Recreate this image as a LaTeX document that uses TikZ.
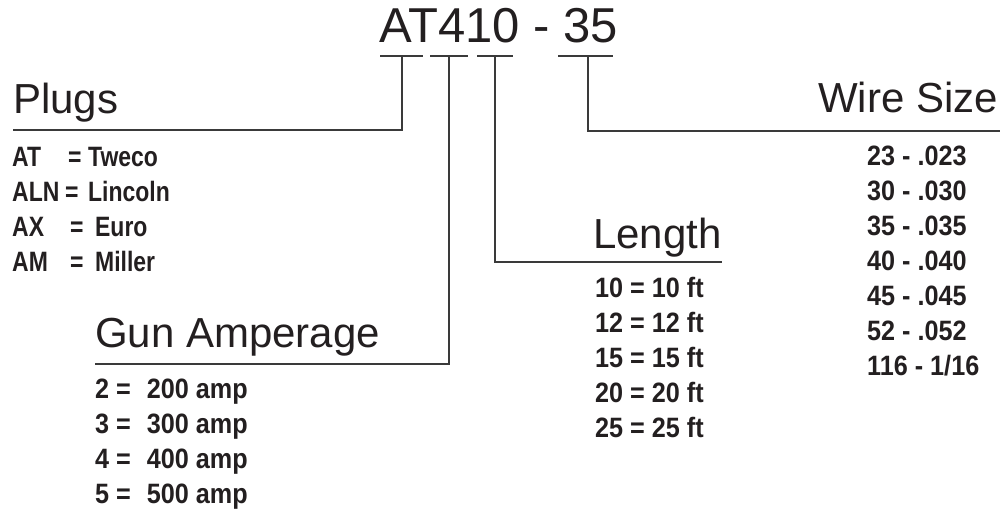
\documentclass[tikz,border=0pt]{standalone}
\usepackage{fontspec}
\setmainfont{Liberation Sans}
\newfontfamily\condtext{Liberation Sans}[FakeStretch=0.82]
\newfontfamily\condnum{Liberation Sans}[FakeStretch=0.9]
\definecolor{ink}{HTML}{231F20}
\definecolor{rule}{HTML}{3A3A3A}
\begin{document}
\begin{tikzpicture}[x=1pt,y=-1pt,
  titletext/.style={anchor=base west, inner sep=0pt, text=ink, font=\fontsize{49}{49}\selectfont},
  headtext/.style={anchor=base west, inner sep=0pt, text=ink, font=\fontsize{42}{42}\selectfont},
  plugtext/.style={anchor=base west, inner sep=0pt, text=ink, font=\condtext\bfseries\fontsize{28}{28}\selectfont},
  itemtext/.style={anchor=base west, inner sep=0pt, text=ink, font=\condnum\bfseries\fontsize{28}{28}\selectfont},
  link/.style={draw=rule, line width=1.4pt}]
\path[use as bounding box] (0,0) rectangle (1003,511);
% title
\node[titletext] (title) at (379,43) {AT410 - 35};
% underline segments
\coordinate (u1a) at (380,56); \coordinate (u1b) at (423,56); \coordinate (u1m) at (402,56);
\coordinate (u2a) at (430,56); \coordinate (u2b) at (468,56); \coordinate (u2m) at (449,56);
\coordinate (u3a) at (477,56); \coordinate (u3b) at (513,56); \coordinate (u3m) at (495,56);
\coordinate (u4a) at (558,56); \coordinate (u4b) at (613,56); \coordinate (u4m) at (588,56);
\draw[link] (u1a) -- (u1b);
\draw[link] (u2a) -- (u2b);
\draw[link] (u3a) -- (u3b);
\draw[link] (u4a) -- (u4b);
% headings
\node[headtext] (plugs) at (13,113) {Plugs};
\node[headtext] (gun) at (95,347) {Gun Amperage};
\node[headtext] (length) at (593,248) {Length};
\node[headtext] (wire) at (818,112) {Wire Size};
% connector ends
\coordinate (p1) at (402,130); \coordinate (p2) at (13,130);
\coordinate (g1) at (449,364); \coordinate (g2) at (95,364);
\coordinate (l1) at (495,262); \coordinate (l2) at (722,262);
\coordinate (w1) at (588,131); \coordinate (w2) at (1000,131);
\draw[link] (u1m) -- (p1) -- (p2);
\draw[link] (u2m) -- (g1) -- (g2);
\draw[link] (u3m) -- (l1) -- (l2);
\draw[link] (u4m) -- (w1) -- (w2);
% plugs list
\node[plugtext] (pa) at (12,166) {\makebox[56pt][l]{AT}\makebox[20pt][l]{=}Tweco};
\node[plugtext] (pb) at (12,201) {\makebox[53pt][l]{ALN}\makebox[23pt][l]{=}Lincoln};
\node[plugtext] (pc) at (12,236) {\makebox[58pt][l]{AX}\makebox[25pt][l]{=}Euro};
\node[plugtext] (pd) at (12,271) {\makebox[58pt][l]{AM}\makebox[25pt][l]{=}Miller};
% gun amperage list
\node[itemtext] (ga) at (95,398) {2 =\hspace{16pt}200 amp};
\node[itemtext] (gb) at (95,433) {3 =\hspace{16pt}300 amp};
\node[itemtext] (gc) at (95,468) {4 =\hspace{16pt}400 amp};
\node[itemtext] (gd) at (95,503) {5 =\hspace{16pt}500 amp};
% length list
\node[itemtext] (la) at (595,297) {10 = 10 ft};
\node[itemtext] (lb) at (595,332) {12 = 12 ft};
\node[itemtext] (lc) at (595,367) {15 = 15 ft};
\node[itemtext] (ld) at (595,402) {20 = 20 ft};
\node[itemtext] (le) at (595,437) {25 = 25 ft};
% wire size list
\node[itemtext] (wa) at (867,165) {23 - .023};
\node[itemtext] (wb) at (867,200) {30 - .030};
\node[itemtext] (wc) at (867,235) {35 - .035};
\node[itemtext] (wd) at (867,270) {40 - .040};
\node[itemtext] (we) at (867,305) {45 - .045};
\node[itemtext] (wf) at (867,340) {52 - .052};
\node[itemtext] (wg) at (867,375) {116 - 1/16};
\end{tikzpicture}
\end{document}
